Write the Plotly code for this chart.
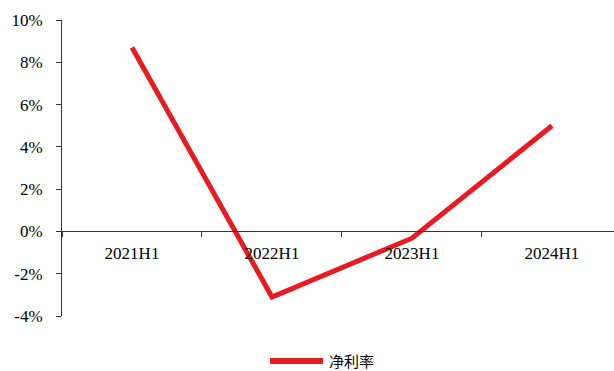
import plotly.graph_objects as go

categories = ["2021H1", "2022H1", "2023H1", "2024H1"]
net_margin = [8.7, -3.1, -0.32, 5.0]
series_name = "净利率"
y_ticks = [-4, -2, 0, 2, 4, 6, 8, 10]
y_tick_labels = ["-4%", "-2%", "0%", "2%", "4%", "6%", "8%", "10%"]

RED = "#E81B23"
fig = go.Figure()
fig.add_trace(go.Scatter(
    x=categories, y=net_margin, mode="lines", name=series_name,
    line=dict(color=RED, width=5), showlegend=False,
))

font_serif = "Liberation Serif"
L, R, T, B, W, H = 62, 0, 20, 55, 614, 371
pw, ph = W - L - R, H - T - B

def px(x):
    return (x - L) / pw

def py(y):
    return (H - B - y) / ph

# custom legend (longer swatch like the original)
fig.add_shape(type="line", xref="paper", yref="paper",
              x0=px(270), x1=px(323), y0=py(361), y1=py(361),
              line=dict(color=RED, width=6))
fig.add_annotation(xref="paper", yref="paper", x=px(328), y=py(360),
                   text=series_name, showarrow=False, xanchor="left", yanchor="middle",
                   borderpad=0,
                   font=dict(family="Noto Sans CJK SC", size=15, color="#000"))

fig.update_layout(
    width=W, height=H,
    margin=dict(l=L, r=R, t=T, b=B),
    plot_bgcolor="white", paper_bgcolor="white",
    font=dict(family=font_serif, size=17, color="#000000"),
    showlegend=False,
    xaxis=dict(
        type="category", range=[-0.5, 3.443],
        anchor="free", position=4/14, automargin=False,
        showline=True, linecolor="#333333", linewidth=1,
        ticks="outside", tickson="boundaries", ticklen=5, tickcolor="#333333",
        showgrid=False, zeroline=False, ticklabelstandoff=6,
        tickfont=dict(family=font_serif, size=17),
    ),
    yaxis=dict(
        range=[-4, 10], tickvals=y_ticks, ticktext=y_tick_labels, automargin=False,
        showline=True, linecolor="#333333", linewidth=1,
        ticks="outside", ticklen=5, tickcolor="#333333",
        showgrid=False, zeroline=False, ticklabelstandoff=10,
        tickfont=dict(family=font_serif, size=17),
    ),
)

fig.write_html("out.html", config={"displayModeBar": False},
               post_script="document.body.style.margin='0';document.body.style.overflow='hidden';")
